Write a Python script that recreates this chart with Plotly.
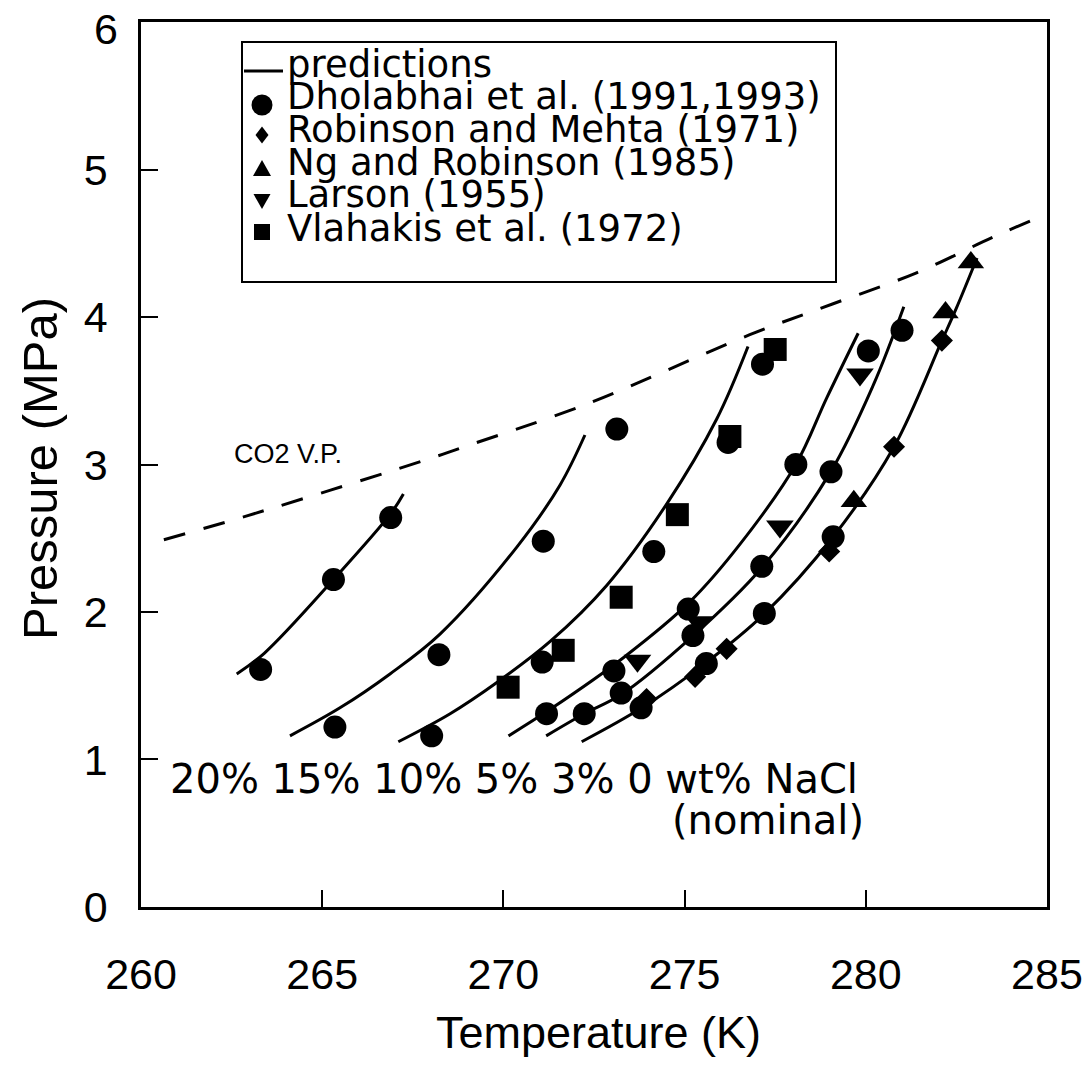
import plotly.graph_objects as go

# ---------------- data ----------------
# prediction curves (T in K, P in MPa)
c20_T = [262.64, 263.40, 265.31, 266.90, 267.24]
c20_P = [1.58, 1.72, 2.22, 2.67, 2.80]
c15_T = [264.11, 265.49, 266.87, 268.25, 270.37, 271.56, 272.25]
c15_P = [1.16, 1.35, 1.58, 1.85, 2.44, 2.86, 3.20]
c10_T = [267.10, 268.53, 269.81, 271.29, 272.85, 274.50, 275.89, 276.75]
c10_P = [1.12, 1.31, 1.52, 1.80, 2.18, 2.73, 3.31, 3.80]
c5_T = [270.14, 271.29, 273.31, 275.15, 276.53, 278.07, 278.92, 279.79]
c5_P = [1.16, 1.34, 1.69, 2.07, 2.46, 3.00, 3.45, 3.89]
c3_T = [271.18, 272.23, 273.25, 275.24, 277.13, 279.03, 280.21, 281.05]
c3_P = [1.16, 1.31, 1.44, 1.84, 2.30, 2.95, 3.54, 4.07]
c0_T = [272.16, 273.82, 275.56, 277.17, 279.10, 280.78, 282.10, 282.50, 283.07]
c0_P = [1.12, 1.35, 1.65, 1.98, 2.51, 3.12, 3.84, 4.06, 4.40]

# CO2 vapour pressure (dashed)
vp_T = [260.63, 262.90, 267.97, 268.80, 272.30, 276.80, 279.10, 281.40, 283.50, 285.00]
vp_P = [2.49, 2.65, 3.04, 3.11, 3.41, 3.88, 4.09, 4.30, 4.54, 4.70]

# experimental data
dhol_T = [263.30, 265.31, 266.89, 265.35, 268.22, 271.10, 273.13,
          268.02, 271.07, 274.15, 276.20, 277.15,
          271.19, 273.05, 275.10, 278.07, 280.07,
          272.23, 273.25, 275.23, 277.13, 279.04, 281.00,
          273.80, 275.60, 277.20, 279.10]
dhol_P = [1.61, 2.22, 2.64, 1.22, 1.71, 2.48, 3.24,
          1.16, 1.66, 2.41, 3.15, 3.68,
          1.31, 1.60, 2.02, 3.00, 3.77,
          1.31, 1.45, 1.84, 2.31, 2.95, 3.91,
          1.35, 1.65, 1.99, 2.51]

rob_T = [273.95, 275.29, 276.16, 278.99, 280.78, 282.10]
rob_P = [1.41, 1.56, 1.75, 2.41, 3.12, 3.84]

ng_T = [279.67, 282.20, 282.90]
ng_P = [2.75, 4.03, 4.37]

lar_T = [273.70, 275.40, 277.63, 279.84]
lar_P = [1.67, 1.93, 2.58, 3.61]

vla_T = [270.13, 271.65, 273.25, 274.80, 276.25, 277.50]
vla_P = [1.49, 1.74, 2.10, 2.66, 3.19, 3.78]

legend_labels = ["predictions", "Dholabhai et al. (1991,1993)",
                 "Robinson and Mehta (1971)", "Ng and Robinson (1985)",
                 "Larson (1955)", "Vlahakis et al. (1972)"]

x_ticks = [260, 265, 270, 275, 280, 285]
y_ticks = [0, 1, 2, 3, 4, 5, 6]
y_ticktext = ["0", "1", "2", "3", "4", "5", ""]   # top label "6" drawn as text below

# ---------------- figure ----------------
FONT = "Liberation Sans, Arial, Helvetica, sans-serif"
WIDE = "DejaVu Sans, Verdana, sans-serif"
W, H = 1087, 1066
L, R, T, B = 141, 40, 22, 159
PW, PH = W - L - R, H - T - B


def px(xp):
    return (xp - L) / PW


def py(yp):
    return (H - B - yp) / PH


fig = go.Figure()

fig.add_trace(go.Scatter(x=vp_T, y=vp_P, mode="lines", line_shape="spline",
                         line=dict(color="black", width=3, dash="22px,19px"),
                         showlegend=False, hoverinfo="skip"))

for cx, cy in [(c20_T, c20_P), (c15_T, c15_P), (c10_T, c10_P),
               (c5_T, c5_P), (c3_T, c3_P), (c0_T, c0_P)]:
    fig.add_trace(go.Scatter(x=cx, y=cy, mode="lines", line_shape="spline",
                             line=dict(color="black", width=3),
                             showlegend=False))


def add_markers(xs, ys, symbol, size, name):
    fig.add_trace(go.Scatter(x=xs, y=ys, mode="markers", name=name,
                             marker=dict(symbol=symbol, size=size, color="black",
                                         line=dict(width=0)),
                             showlegend=False))


add_markers(vla_T, vla_P, "square", 23, legend_labels[5])
add_markers(dhol_T, dhol_P, "circle", 23, legend_labels[1])
add_markers(rob_T, rob_P, "diamond", 17, legend_labels[2])
add_markers(ng_T, ng_P, "triangle-up", 23, legend_labels[3])
add_markers(lar_T, lar_P, "triangle-down", 24, legend_labels[4])

shapes = []
# legend box
shapes.append(dict(type="rect", xref="paper", yref="paper",
                   x0=px(242), x1=px(836), y0=py(282), y1=py(42),
                   line=dict(color="black", width=2), fillcolor="white", layer="above"))
# legend line sample
shapes.append(dict(type="line", xref="paper", yref="paper",
                   x0=px(244), x1=px(283), y0=py(71), y1=py(71),
                   line=dict(color="black", width=3), layer="above"))
blk = dict(color="black", width=0)
shapes.append(dict(type="circle", xref="paper", yref="paper",
                   x0=px(251.5), x1=px(272.5), y0=py(115.5), y1=py(94.5),
                   fillcolor="black", line=blk, layer="above"))


def path(pts):
    s = "M " + " L ".join(f"{px(a):.5f},{py(b):.5f}" for a, b in pts) + " Z"
    return dict(type="path", xref="paper", yref="paper", path=s,
                fillcolor="black", line=blk, layer="above")


shapes.append(path([(262, 126.5), (268.5, 135), (262, 143.5), (255.5, 135)]))
shapes.append(path([(262, 160), (271, 176), (253, 176)]))
shapes.append(path([(253.5, 194), (270.5, 194), (262, 209)]))
shapes.append(path([(254, 224), (270, 224), (270, 240), (254, 240)]))

annotations = []
row_y = [65, 96, 129, 162, 195, 228]
for lab, yy in zip(legend_labels, row_y):
    annotations.append(dict(xref="paper", yref="paper", x=px(285), y=py(yy),
                            xanchor="left", yanchor="middle", text=lab,
                            showarrow=False,
                            font=dict(family=WIDE, size=37, color="black")))

annotations.append(dict(xref="x", yref="y", x=262.51, y=3.07, text="CO2 V.P.",
                        xanchor="left", yanchor="middle", showarrow=False,
                        font=dict(family=FONT, size=27, color="black")))
annotations.append(dict(xref="x", yref="y", x=260.75, y=0.87,
                        text="20% 15% 10% 5% 3% 0 wt% NaCl",
                        xanchor="left", yanchor="middle", showarrow=False,
                        font=dict(family=WIDE, size=40, color="black")))
annotations.append(dict(xref="x", yref="y", x=280.0, y=0.59, text="(nominal)",
                        xanchor="right", yanchor="middle", showarrow=False,
                        font=dict(family=WIDE, size=40, color="black")))
# top y tick label, nudged down like the reference
annotations.append(dict(xref="paper", yref="paper", x=px(120), y=py(29),
                        text="6", xanchor="right", yanchor="middle", showarrow=False,
                        font=dict(family=FONT, size=43, color="black")))
# axis titles
annotations.append(dict(xref="paper", yref="paper", x=px(598), y=py(1032),
                        text="Temperature (K)", xanchor="center", yanchor="middle",
                        showarrow=False, font=dict(family=FONT, size=45, color="black")))
annotations.append(dict(xref="paper", yref="paper", x=px(40), y=py(469),
                        text="Pressure (MPa)", textangle=-90,
                        xanchor="center", yanchor="middle",
                        showarrow=False, font=dict(family=FONT, size=49, color="black")))

axis_common = dict(showgrid=False, zeroline=False, showline=True, linecolor="black",
                   linewidth=2.5, mirror=True, ticks="inside", ticklen=17,
                   tickwidth=2, tickcolor="black", automargin=False,
                   tickfont=dict(family=FONT, size=43, color="black"))

fig.update_layout(
    width=W, height=H,
    margin=dict(l=L, r=R, t=T, b=B, autoexpand=False),
    paper_bgcolor="white", plot_bgcolor="white",
    xaxis=dict(range=[259.999, 285.001], tickvals=x_ticks, ticklabelstandoff=28,
               **axis_common),
    yaxis=dict(range=[-0.0005, 6.0005], tickvals=y_ticks, ticktext=y_ticktext,
               ticklabelstandoff=22, **axis_common),
    shapes=shapes, annotations=annotations, showlegend=False,
)

fig.write_html("out.html")
